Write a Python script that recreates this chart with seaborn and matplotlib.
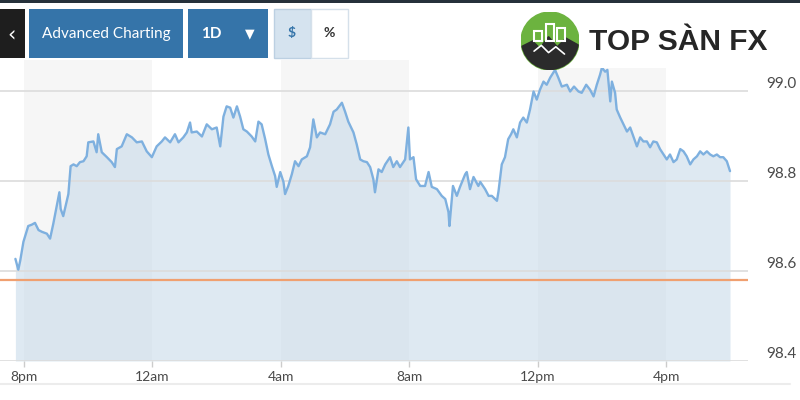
import matplotlib
matplotlib.use("Agg")
import numpy as np
import pandas as pd
import matplotlib.pyplot as plt
import seaborn as sns
from matplotlib.patches import Rectangle, Circle, Polygon
from matplotlib.lines import Line2D

# hours after 8pm, price
hours = [-0.27, -0.18, -0.12, -0.02, 0.13, 0.24, 0.34, 0.45, 0.56, 0.71, 0.81, 0.91, 1.02, 1.10, 1.14,
         1.22, 1.38, 1.45, 1.54, 1.64, 1.74, 1.85, 1.95, 2.00, 2.16, 2.26, 2.31, 2.42, 2.58, 2.73,
         2.83, 2.89, 3.04, 3.20, 3.36, 3.51, 3.67, 3.82, 3.98, 4.13, 4.29, 4.39, 4.55, 4.70, 4.81,
         4.96, 5.07, 5.17, 5.22, 5.38, 5.54, 5.69, 5.85, 6.00, 6.11, 6.21, 6.31, 6.42, 6.52, 6.63,
         6.73, 6.83, 6.94, 7.09, 7.20, 7.30, 7.40, 7.51, 7.61, 7.72, 7.82, 7.87, 7.98, 8.08, 8.13,
         8.23, 8.34, 8.44, 8.55, 8.65, 8.81, 8.91, 9.01, 9.12, 9.22, 9.38, 9.53, 9.64, 9.74, 9.90,
         10.00, 10.10, 10.26, 10.36, 10.47, 10.57, 10.68, 10.78, 10.88, 10.93, 11.04, 11.14, 11.25, 11.40, 11.50,
         11.61, 11.71, 11.87, 11.97, 12.02, 12.13, 12.21, 12.34, 12.49, 12.60, 12.70, 12.86, 13.01, 13.12, 13.22,
         13.25, 13.36, 13.48, 13.58, 13.74, 13.79, 13.89, 14.00, 14.15, 14.21, 14.36, 14.47, 14.57, 14.73, 14.78,
         14.88, 14.98, 15.08, 15.17, 15.24, 15.35, 15.45, 15.55, 15.66, 15.76, 15.87, 15.97, 16.07, 16.18, 16.28,
         16.39, 16.54, 16.64, 16.75, 16.91, 17.01, 17.13, 17.27, 17.37, 17.51, 17.63, 17.74, 17.84, 17.94, 18.00,
         18.10, 18.17, 18.26, 18.31, 18.41, 18.46, 18.57, 18.67, 18.78, 18.88, 18.98, 19.09, 19.19, 19.29, 19.40,
         19.50, 19.60, 19.71, 19.81, 19.92, 20.02, 20.12, 20.23, 20.33, 20.44, 20.54, 20.64, 20.75, 20.85, 20.96,
         21.06, 21.16, 21.27, 21.37, 21.47, 21.58, 21.68, 21.78, 21.89, 21.99]
prices = [98.626, 98.602, 98.622, 98.664, 98.699, 98.702, 98.706, 98.690, 98.686, 98.682, 98.671, 98.704, 98.744, 98.774, 98.737,
          98.721, 98.770, 98.832, 98.836, 98.832, 98.841, 98.843, 98.854, 98.885, 98.887, 98.863, 98.903, 98.863, 98.852, 98.841,
          98.830, 98.870, 98.876, 98.903, 98.896, 98.885, 98.887, 98.865, 98.852, 98.876, 98.887, 98.896, 98.885, 98.903, 98.885,
          98.896, 98.907, 98.929, 98.907, 98.909, 98.898, 98.925, 98.914, 98.918, 98.876, 98.942, 98.965, 98.962, 98.940, 98.965,
          98.942, 98.914, 98.909, 98.898, 98.887, 98.931, 98.925, 98.892, 98.858, 98.832, 98.810, 98.786, 98.819, 98.797, 98.770,
          98.788, 98.814, 98.843, 98.832, 98.847, 98.854, 98.874, 98.936, 98.896, 98.907, 98.903, 98.925, 98.953, 98.958, 98.973,
          98.953, 98.931, 98.907, 98.881, 98.847, 98.843, 98.841, 98.830, 98.803, 98.774, 98.825, 98.819, 98.836, 98.852, 98.830,
          98.843, 98.830, 98.847, 98.918, 98.847, 98.852, 98.803, 98.788, 98.788, 98.819, 98.786, 98.781, 98.766, 98.759, 98.730,
          98.699, 98.788, 98.766, 98.786, 98.814, 98.819, 98.781, 98.808, 98.788, 98.797, 98.781, 98.766, 98.766, 98.755, 98.777,
          98.836, 98.852, 98.892, 98.903, 98.914, 98.896, 98.929, 98.940, 98.929, 98.958, 98.998, 98.980, 99.002, 99.020, 99.013,
          99.029, 99.046, 99.029, 99.009, 99.013, 98.998, 99.009, 98.998, 98.995, 99.013, 99.002, 98.987, 99.013, 99.035, 99.051,
          99.042, 99.046, 98.976, 99.020, 98.995, 98.958, 98.940, 98.925, 98.909, 98.918, 98.898, 98.876, 98.896, 98.887, 98.887,
          98.874, 98.887, 98.885, 98.870, 98.858, 98.847, 98.858, 98.841, 98.847, 98.870, 98.865, 98.854, 98.836, 98.847, 98.854,
          98.865, 98.858, 98.865, 98.858, 98.854, 98.858, 98.852, 98.852, 98.843, 98.821]
prev_close = 98.578

x_ticks = [0, 4, 8, 12, 16, 20]
x_labels = ["8pm", "12am", "4am", "8am", "12pm", "4pm"]
y_ticks = [98.4, 98.6, 98.8, 99.0]
y_labels = ["98.4", "98.6", "98.8", "99.0"]
shaded = [(0, 4), (8, 12), (16, 20)]

W, H = 800, 400
def fx(x):
    return x / W
def fy(y):
    return 1 - y / H

sns.set_style("white")
plt.rcParams['font.family'] = ['Lato', 'DejaVu Sans']

df = pd.DataFrame({"hour": hours, "price": prices})

fig = plt.figure(figsize=(8, 4), dpi=100)
ax = fig.add_axes([0, fy(361), fx(748), (361 - 60) / H])

for a, b in shaded:
    ax.axvspan(a, b, color='#f6f6f6', lw=0, zorder=0)

ax.fill_between(df["hour"], df["price"], 98.399, color='#c3d7e9', alpha=0.55, lw=0, zorder=1)
ax.axhline(prev_close, color='#f0a070', lw=1.6, zorder=2)
sns.lineplot(data=df, x="hour", y="price", color='#7eb0df', lw=1.7, ax=ax, zorder=3)

ax.set_xlim(-0.75, 22.55)
ax.set_ylim(98.399, 99.068)
ax.set_xlabel("")
ax.set_ylabel("")
sns.despine(ax=ax, left=True, bottom=True)

ax.set_axisbelow(False)
ax.grid(axis='y', color='#dcdcdc', lw=1.2, zorder=1.5)
ax.grid(axis='x', visible=False)

ax.set_xticks(x_ticks)
ax.set_xticklabels(x_labels)
ax.tick_params(axis='x', bottom=True, length=4, width=1, color='#cccccc',
               labelsize=10, labelcolor='#4a4a4a', pad=3)

ax.yaxis.tick_right()
ax.set_yticks(y_ticks)
ax.set_yticklabels(y_labels)
ax.tick_params(axis='y', right=True, left=False, length=0, pad=13,
               labelsize=11, labelcolor='#4a4a4a')
for t in ax.get_yticklabels():
    t.set_va('bottom')

# header buttons
def box(x0, y0, x1, y1, fc, ec='none', lw=0, z=5):
    fig.add_artist(Rectangle((fx(x0), fy(y1)), fx(x1) - fx(x0), (y1 - y0) / H,
                             transform=fig.transFigure, facecolor=fc, edgecolor=ec, lw=lw, zorder=z))

box(0, 0, 800, 3, '#26313b')
box(0, 9, 25, 58, '#1e1e1e')
box(29, 9, 183, 58, '#3574a9')
box(188, 9, 268, 58, '#3574a9')
box(274, 9, 311, 58, '#d5e3ef', ec='#bcd0e2', lw=1)
box(311, 9, 348, 58, '#ffffff', ec='#d5e0ea', lw=1)

fig.text(fx(12), fy(34), "‹", color='white', fontsize=15, ha='center', va='center', family='DejaVu Sans', zorder=10)
fig.text(fx(106), fy(34), "Advanced Charting", color='white', fontsize=11, ha='center', va='center', zorder=10)
fig.text(fx(211), fy(34), "1D", color='white', fontsize=11, fontweight='bold', ha='center', va='center', zorder=10)
fig.text(fx(250), fy(34), "▼", color='white', fontsize=9, ha='center', va='center', family='DejaVu Sans', zorder=10)
fig.text(fx(292), fy(33), "$", color='#3574a9', fontsize=10, fontweight='bold', ha='center', va='center', zorder=10)
fig.text(fx(329), fy(33), "%", color='#333333', fontsize=10, fontweight='bold', ha='center', va='center', zorder=10)

# logo
box(522, 10, 780, 68, '#ffffff', z=6)
fig.text(fx(589), fy(42), "TOP SÀN FX", color='#262626', fontsize=21.5, fontweight='bold',
         ha='left', va='center', family=['Liberation Sans', 'DejaVu Sans'], zorder=10)
lax = fig.add_axes([fx(521), fy(70), fx(58), 58 / H])
lax.set_zorder(9)
lax.set_xlim(-1, 1)
lax.set_ylim(-1, 1)
lax.set_aspect('equal')
lax.axis('off')
lax.add_patch(Circle((0, 0), 1, color='#6cb33f'))
mountain = Polygon([(-1, -0.2), (-0.6, 0.0), (-0.35, -0.25), (-0.05, 0.15), (0.25, -0.2), (0.55, 0.1), (1, -0.15),
                    (1, -1), (-1, -1)], closed=True, color='#2b2b2b')
lax.add_patch(mountain)
mountain.set_clip_path(Circle((0, 0), 1, transform=lax.transData))
for bx, bh in [(-0.55, 0.35), (-0.15, 0.6), (0.25, 0.45)]:
    lax.add_patch(Rectangle((bx, 0.0), 0.28, bh, facecolor='none', edgecolor='white', lw=1.5))
lax.plot([-0.55, -0.3, -0.05, 0.2, 0.5], [-0.35, -0.15, -0.4, -0.2, -0.45], color='white', lw=1.2)

fig.add_artist(Line2D([0, fx(790)], [fy(384), fy(384)], transform=fig.transFigure, color='#ececec', lw=1.5))

fig.savefig("out.png", dpi=100)
